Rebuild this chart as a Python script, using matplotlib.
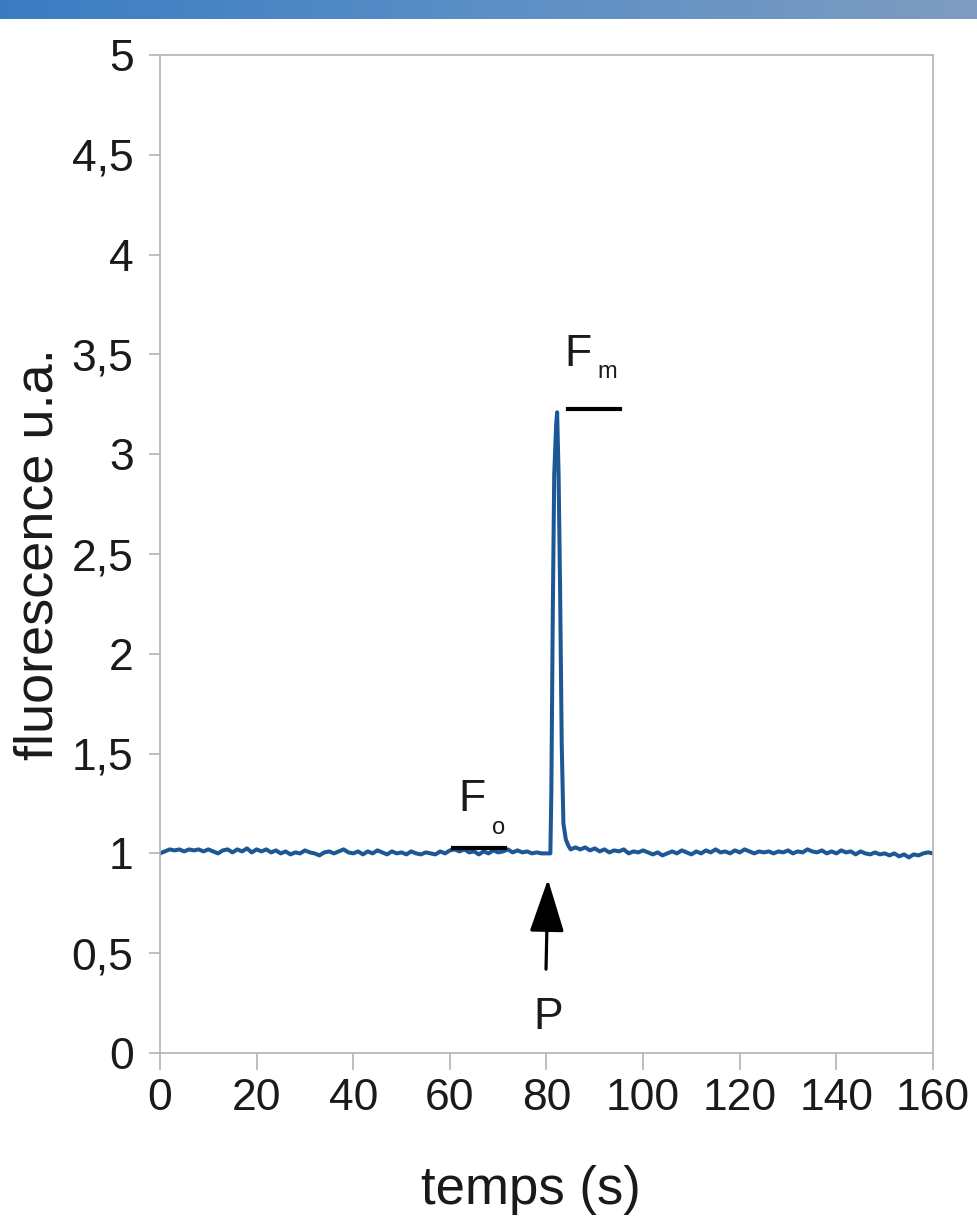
import numpy as np
import matplotlib
matplotlib.use("Agg")
import matplotlib.pyplot as plt
from matplotlib.colors import LinearSegmentedColormap

plt.rcParams['font.family'] = ['Liberation Sans', 'DejaVu Sans']

# ---- data ----
time_s = [0, 1, 2, 3, 4, 5, 6, 7, 8, 9, 10, 11, 12, 13, 14, 15, 16, 17, 18, 19,
          20, 21, 22, 23, 24, 25, 26, 27, 28, 29, 30, 31, 32, 33, 34, 35, 36, 37, 38, 39,
          40, 41, 42, 43, 44, 45, 46, 47, 48, 49, 50, 51, 52, 53, 54, 55, 56, 57, 58, 59,
          60, 61, 62, 63, 64, 65, 66, 67, 68, 69, 70, 71, 72, 73, 74, 75, 76, 77, 78, 79,
          80, 80.8, 81.0, 81.3, 81.6, 82.0, 82.2, 82.5, 82.8, 83.15, 83.5, 84.0, 84.5,
          85, 86, 87, 88, 89, 90, 91, 92, 93, 94, 95, 96, 97, 98, 99,
          100, 101, 102, 103, 104, 105, 106, 107, 108, 109, 110, 111, 112, 113, 114, 115, 116, 117, 118, 119,
          120, 121, 122, 123, 124, 125, 126, 127, 128, 129, 130, 131, 132, 133, 134, 135, 136, 137, 138, 139,
          140, 141, 142, 143, 144, 145, 146, 147, 148, 149, 150, 151, 152, 153, 154, 155, 156, 157, 158, 159, 160]
fluo = [1.00, 1.01, 1.02, 1.015, 1.02, 1.01, 1.02, 1.015, 1.02, 1.01, 1.02, 1.01, 1.00, 1.015, 1.02, 1.005, 1.02, 1.01, 1.025, 1.005,
        1.02, 1.01, 1.02, 1.005, 1.015, 1.00, 1.01, 0.995, 1.005, 1.00, 1.015, 1.005, 1.00, 0.99, 1.005, 1.01, 1.00, 1.01, 1.02, 1.005,
        1.00, 1.01, 0.995, 1.01, 1.00, 1.015, 1.005, 0.995, 1.01, 1.00, 1.005, 0.995, 1.01, 1.00, 0.995, 1.005, 1.00, 0.995, 1.01, 1.00,
        1.015, 1.02, 1.01, 1.02, 1.005, 1.01, 0.995, 1.01, 1.00, 1.015, 1.005, 1.01, 1.02, 1.005, 1.015, 1.005, 1.01, 1.00, 1.005, 1.00,
        1.00, 1.00, 1.30, 2.20, 2.90, 3.15, 3.21, 2.90, 2.35, 1.55, 1.15, 1.07, 1.04,
        1.02, 1.03, 1.02, 1.03, 1.015, 1.025, 1.01, 1.02, 1.005, 1.015, 1.01, 1.02, 1.00, 1.01, 1.005,
        1.015, 1.005, 0.995, 1.005, 0.99, 1.00, 1.01, 1.00, 1.015, 1.005, 0.995, 1.01, 1.00, 1.015, 1.005, 1.02, 1.005, 1.01, 1.00, 1.015,
        1.005, 1.02, 1.01, 1.00, 1.01, 1.005, 1.01, 1.00, 1.01, 1.005, 1.015, 1.00, 1.01, 1.005, 1.02, 1.01, 1.005, 1.015, 1.00, 1.01,
        1.00, 1.015, 1.005, 1.01, 0.995, 1.01, 1.00, 0.995, 1.005, 0.995, 1.00, 0.99, 1.00, 0.985, 0.995, 0.98, 0.995, 0.99, 1.00, 1.005, 1.00]

x_ticks = [0, 20, 40, 60, 80, 100, 120, 140, 160]
y_ticks = [0, 0.5, 1, 1.5, 2, 2.5, 3, 3.5, 4, 4.5, 5]
y_tick_labels = ['0', '0,5', '1', '1,5', '2', '2,5', '3', '3,5', '4', '4,5', '5']

fo_level = 1.027
fo_range = [60.6, 71.4]
fm_level = 3.226
fm_range = [84.4, 95.2]

# ---- figure ----
W, H = 978, 1218
fig = plt.figure(figsize=(W / 100, H / 100), dpi=100)

# top decorative gradient band
band = fig.add_axes([0, 1 - 19 / H, 1, 19 / H])
cmap = LinearSegmentedColormap.from_list('band', ['#3a7cc2', '#5b8fc6', '#7e9cbf'])
band.imshow(np.linspace(0, 1, 256)[None, :], aspect='auto', cmap=cmap, extent=[0, 1, 0, 1])
band.axis('off')

ax = fig.add_axes([160 / W, 1 - 1053 / H, (933 - 160) / W, (1053 - 55) / H])
ax.plot(time_s, fluo, color='#1d5895', lw=2.9, solid_joinstyle='round')

ax.set_xlim(0, 160)
ax.set_ylim(0, 5)
ax.set_xticks(x_ticks)
ax.set_xticklabels([str(v) for v in x_ticks])
ax.set_yticks(y_ticks)
ax.set_yticklabels(y_tick_labels)

for s in ax.spines.values():
    s.set_color('#b3b3b3')
    s.set_linewidth(1.2)
ax.tick_params(axis='x', direction='out', length=12, width=1.2, color='#b3b3b3',
               labelsize=32, pad=6, labelcolor='#1a1a1a')
ax.tick_params(axis='y', direction='out', length=8, width=1.2, color='#b3b3b3',
               labelsize=32, pad=11, labelcolor='#1a1a1a')

ax.set_xlabel('temps (s)', fontsize=38, color='#1a1a1a')
ax.xaxis.label.set_va('center')
ax.xaxis.set_label_coords(0.48, -0.137)
ax.set_ylabel('fluorescence u.a.', fontsize=39, color='#1a1a1a')
ax.yaxis.label.set_va('center')
ax.yaxis.set_label_coords(-0.157, 0.5)

# Fo / Fm markers
ax.plot(fo_range, [fo_level, fo_level], color='black', lw=3)
ax.plot(fm_range, [fm_level, fm_level], color='black', lw=3)
ax.text(64.6, 1.27, 'F', fontsize=32, ha='center', va='center', color='#1a1a1a')
ax.text(70.0, 1.125, 'o', fontsize=17, ha='center', va='center', color='#1a1a1a')
ax.text(86.6, 3.50, 'F', fontsize=32, ha='center', va='center', color='#1a1a1a')
ax.text(92.5, 3.41, 'm', fontsize=17, ha='center', va='center', color='#1a1a1a')

# arrow P
ax.annotate('', xy=(80.3, 0.87), xytext=(79.9, 0.42),
            arrowprops=dict(arrowstyle='-|>,head_length=1.1,head_width=0.36',
                            mutation_scale=30, lw=2.3, color='black',
                            shrinkA=0, shrinkB=0))
ax.text(80.3, 0.18, 'P', fontsize=32, ha='center', va='center', color='#1a1a1a')

fig.savefig('out.png', dpi=100)
